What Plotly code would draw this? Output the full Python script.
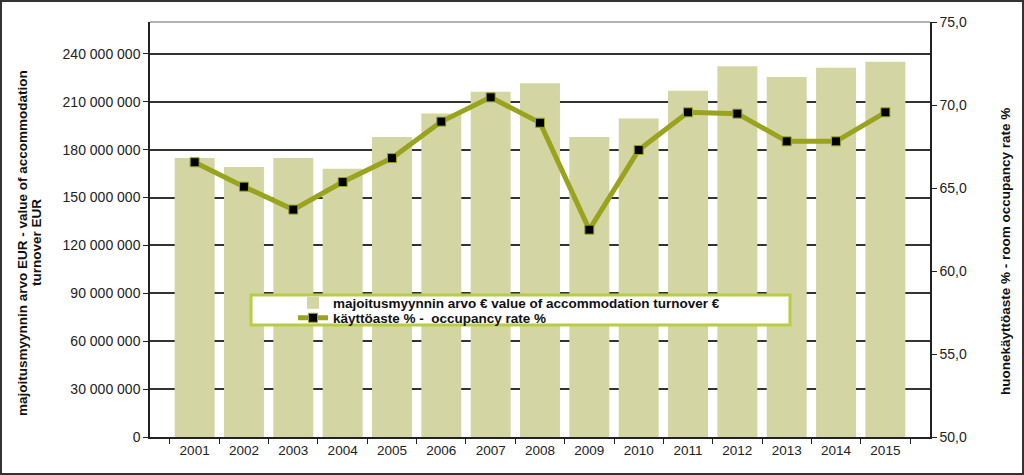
import plotly.graph_objects as go

years = ["2001", "2002", "2003", "2004", "2005", "2006", "2007", "2008",
         "2009", "2010", "2011", "2012", "2013", "2014", "2015"]
turnover_eur = [174.8e6, 169.1e6, 174.8e6, 168.0e6, 187.9e6, 202.6e6, 216.3e6, 221.6e6,
                187.9e6, 199.6e6, 216.9e6, 232.2e6, 225.5e6, 231.3e6, 235.1e6]
occupancy_pct = [66.55, 65.08, 63.70, 65.36, 66.80, 69.00, 70.46, 68.93,
                 62.49, 67.29, 69.56, 69.48, 67.81, 67.81, 69.56]

bar_name = "majoitusmyynnin arvo € value of accommodation turnover €"
line_name = "käyttöaste % -  occupancy rate %"
left_title_1 = "majoitusmyynnin arvo EUR - value of accommodation"
left_title_2 = "turnover EUR"
right_title = "huonekäyttöaste % - room occupancy rate %"

BAR_C = "#D3D6A3"
LINE_C = "#9AA31E"
FONT = "Liberation Sans, Arial, sans-serif"

fig = go.Figure()
fig.add_trace(go.Bar(x=years, y=turnover_eur, name=bar_name, marker_color=BAR_C,
                     marker_line_width=0, yaxis="y", legend="legend"))
fig.add_trace(go.Scatter(x=years, y=occupancy_pct, name=line_name, mode="lines+markers",
                         line=dict(color=LINE_C, width=5),
                         marker=dict(symbol="square", size=9, color="black",
                                     line=dict(color=LINE_C, width=1)),
                         yaxis="y2", legend="legend2"))

L, R, T, B = 150, 94, 22, 38
W, H = 1024, 475
pw, ph = W - L - R, H - T - B

def px(xp):
    return (xp - L) / pw

def py(yp):
    return (H - B - yp) / ph

leg_font = dict(family=FONT, size=13.5, color="#111", weight="bold")
tick_font = dict(family=FONT, size=14, color="#222")
title_font = dict(family=FONT, size=13.5, color="#111", weight="bold")

fig.update_layout(
    width=W, height=H,
    margin=dict(l=L, r=R, t=T, b=B),
    paper_bgcolor="white", plot_bgcolor="white",
    separators=", ",
    font=dict(family=FONT, size=12, color="#222"),
    bargap=0.19,
    showlegend=True,
    legend=dict(x=px(293), y=py(303), xanchor="left", yanchor="middle",
                bgcolor="rgba(0,0,0,0)", borderwidth=0, font=leg_font,
                itemwidth=30),
    legend2=dict(x=px(293), y=py(318), xanchor="left", yanchor="middle",
                 bgcolor="rgba(0,0,0,0)", borderwidth=0, font=leg_font,
                 itemwidth=30),
    xaxis=dict(type="category", tickson="boundaries", ticks="outside", ticklen=5,
               tickcolor="#222", showline=True, linecolor="#222", linewidth=1.5,
               showgrid=False, tickfont=dict(family=FONT, size=13.5, color="#222")),
    yaxis=dict(range=[0, 260e6], tick0=0, dtick=30e6, tickformat=",.0f",
               ticks="outside", ticklen=5, tickcolor="#222",
               showline=True, linecolor="#222", linewidth=1.5,
               showgrid=True, gridcolor="#333", gridwidth=1.5, zeroline=False,
               tickfont=tick_font),
    yaxis2=dict(range=[50, 75], tick0=50, dtick=5, tickformat=".1f", overlaying="y",
                side="right", ticks="outside", ticklen=5, tickcolor="#222",
                showline=True, linecolor="#222", linewidth=1.5, showgrid=False,
                zeroline=False, tickfont=tick_font),
)

# axis titles
fig.add_annotation(text=left_title_1, xref="paper", yref="paper", x=px(22), y=py(243),
                   textangle=-90, showarrow=False, font=title_font,
                   xanchor="center", yanchor="middle")
fig.add_annotation(text=left_title_2, xref="paper", yref="paper", x=px(36), y=py(243),
                   textangle=-90, showarrow=False, font=title_font,
                   xanchor="center", yanchor="middle")
fig.add_annotation(text=right_title, xref="paper", yref="paper", x=px(1005), y=py(252),
                   textangle=-90, showarrow=False, font=title_font,
                   xanchor="center", yanchor="middle")

# top border of plot area
fig.add_shape(type="line", xref="paper", yref="paper", x0=0, x1=1, y0=1, y1=1,
              line=dict(color="#999", width=1.5))
# legend box
fig.add_shape(type="rect", xref="paper", yref="paper",
              x0=px(251), x1=px(790), y0=py(295), y1=py(325),
              fillcolor="white", line=dict(color="#B8CC45", width=3), layer="above")
# outer frame
fig.add_shape(type="rect", xref="paper", yref="paper",
              x0=px(1), x1=px(W - 1), y0=py(H - 1), y1=py(1),
              fillcolor="rgba(0,0,0,0)", line=dict(color="#333", width=2))

fig.write_html("out.html", config={"displayModeBar": False},
               post_script="document.body.style.margin='0';document.body.style.padding='0';")
